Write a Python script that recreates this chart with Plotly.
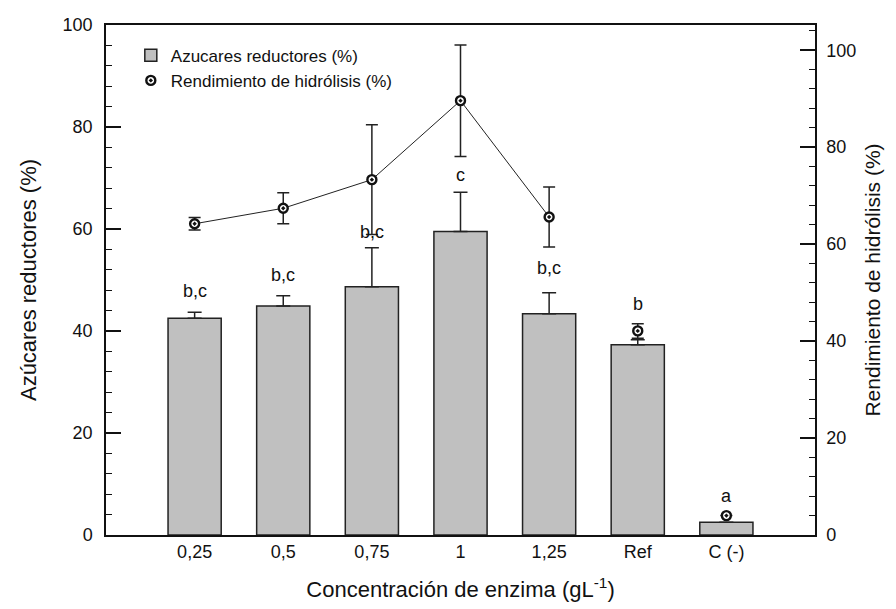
import plotly.graph_objects as go

categories = ["0,25", "0,5", "0,75", "1", "1,25", "Ref", "C (-)"]
bar_vals = [42.5, 44.9, 48.7, 59.5, 43.4, 37.3, 2.5]
bar_err = [1.2, 2.0, 7.6, 7.7, 4.1, 1.0, 0.0]
yield_vals = [64.2, 67.4, 73.3, 89.6, 65.6, 42.1, 4.0]
yield_err = [1.3, 3.2, 11.3, 11.5, 6.2, 1.5, 0.0]
letters = ["b,c", "b,c", "b,c", "c", "b,c", "b", "a"]
letter_y = [47.9, 51.0, 59.5, 70.5, 52.4, 45.2, 7.6]
n_line = 5  # first five concentrations are joined by a line

x_pos = list(range(1, len(categories) + 1))
FONT = "Liberation Sans, Arial, sans-serif"
INK = "#111111"

fig = go.Figure()

fig.add_trace(go.Bar(
    x=x_pos, y=bar_vals, width=0.6,
    name="Azucares reductores (%)",
    marker=dict(color="#c0c0c0", line=dict(color="#222222", width=1.5)),
    error_y=dict(type="data", array=bar_err, arrayminus=[0] * len(bar_err),
                 symmetric=False, color="#222222", thickness=1.5, width=7),
))

fig.add_trace(go.Scatter(
    x=x_pos[:n_line], y=yield_vals[:n_line], yaxis="y2",
    mode="lines", line=dict(color="#222222", width=1),
    showlegend=False, hoverinfo="skip",
))

fig.add_trace(go.Scatter(
    x=x_pos, y=yield_vals, yaxis="y2", mode="markers",
    name="Rendimiento de hidrólisis (%)",
    marker=dict(symbol="circle-dot", size=9, color="white",
                line=dict(color="#111111", width=2.4)),
    error_y=dict(type="data", array=yield_err, color="#222222",
                 thickness=1.5, width=6),
))

for xi, txt, ly in zip(x_pos, letters, letter_y):
    fig.add_annotation(x=xi, y=ly, xref="x", yref="y", text=txt,
                       showarrow=False, font=dict(family=FONT, size=18, color=INK))

fig.update_layout(
    width=896, height=609,
    margin=dict(l=98, r=89, t=17, b=82, autoexpand=False),
    paper_bgcolor="white", plot_bgcolor="white",
    font=dict(family=FONT, color=INK, size=17),
    showlegend=True,
    legend=dict(x=0.035, y=0.975, xanchor="left", yanchor="top",
                bgcolor="rgba(0,0,0,0)", borderwidth=0,
                font=dict(family=FONT, size=17, color=INK),
                tracegroupgap=2, itemwidth=30),
    xaxis=dict(
        range=[0, 8], tickmode="array", tickvals=x_pos, ticktext=categories,
        showline=True, linecolor="#111111", linewidth=1.5, mirror=True,
        ticks="", showgrid=False, zeroline=False, automargin=False,
        tickfont=dict(family=FONT, size=18, color=INK),
        title=dict(text="Concentración de enzima (gL<sup>-1</sup>)",
                   font=dict(family=FONT, size=22, color=INK), standoff=20),
    ),
    yaxis=dict(
        range=[0, 100], dtick=20, ticks="inside", ticklen=15, tickwidth=1.5,
        tickcolor="#111111", showline=True, linecolor="#111111", linewidth=1.5,
        showgrid=False, zeroline=False, automargin=False,
        minor=dict(dtick=4, ticks="inside", ticklen=6, tickwidth=1.2, tickcolor="#111111"),
        tickfont=dict(family=FONT, size=18, color=INK),
        ticklabelstandoff=8,
        title=dict(text="Azúcares reductores (%)",
                   font=dict(family=FONT, size=22, color=INK), standoff=20),
    ),
    yaxis2=dict(
        overlaying="y", side="right", range=[0, 105.2], dtick=20,
        ticks="inside", ticklen=15, tickwidth=1.5, tickcolor="#111111",
        showline=True, linecolor="#111111", linewidth=1.5,
        showgrid=False, zeroline=False, automargin=False,
        minor=dict(dtick=4, ticks="inside", ticklen=6, tickwidth=1.2, tickcolor="#111111"),
        tickfont=dict(family=FONT, size=18, color=INK),
        ticklabelstandoff=6,
        title=dict(text="Rendimiento de hidrólisis (%)",
                   font=dict(family=FONT, size=21, color=INK), standoff=10),
    ),
)

fig.write_html("out.html")
